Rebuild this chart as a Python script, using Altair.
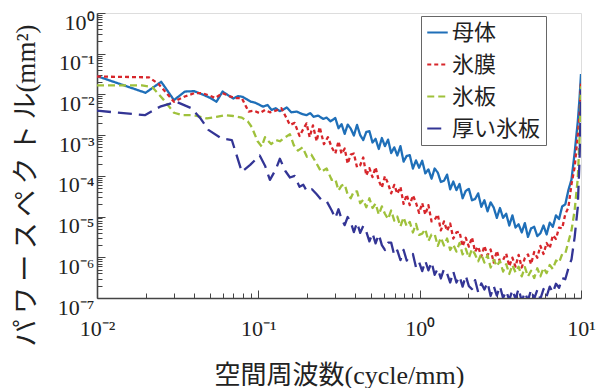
import json
import altair as alt
import pandas as pd

SERIES = ["母体", "氷膜", "氷板", "厚い氷板"]
COLORS = ["#1f6fb8", "#d7262b", "#9fc13b", "#333595"]
DASHES = [[1, 0], [4, 3], [7, 4], [14, 7]]

X_TICKS = [0.01, 0.1, 1, 10]
X_TICK_LABELS = ["10⁻²", "10⁻¹", "10⁰", "10¹"]
Y_TICKS = [1e-7, 1e-6, 1e-5, 1e-4, 1e-3, 1e-2, 1e-1, 1]
Y_TICK_LABELS = ["10⁻⁷", "10⁻⁶", "10⁻⁵", "10⁻⁴", "10⁻³", "10⁻²", "10⁻¹", "10⁰"]
X_TITLE = "空間周波数(cycle/mm)"
Y_TITLE = "パ\u2009ワ\u2009ー\u2009ス\u2009ペ\u2009ク\u2009ト\u2009ル(mm²)"

# shared high-frequency grid (cycle/mm)
F_HI = [0.300, 0.314, 0.328, 0.343, 0.358, 0.374, 0.391, 0.409, 0.428, 0.447,
        0.467, 0.488, 0.510, 0.533, 0.558, 0.583, 0.609, 0.637, 0.666, 0.696,
        0.727, 0.760, 0.795, 0.831, 0.868, 0.908, 0.949, 0.992, 1.037, 1.084,
        1.133, 1.185, 1.238, 1.295, 1.353, 1.415, 1.479, 1.546, 1.616, 1.690,
        1.766, 1.846, 1.930, 2.018, 2.110, 2.205, 2.305, 2.410, 2.519, 2.634,
        2.753, 2.878, 3.009, 3.146, 3.288, 3.438, 3.594, 3.757, 3.927, 4.106,
        4.292, 4.487, 4.691, 4.904, 5.126, 5.359, 5.602, 5.857, 6.122, 6.400,
        6.691, 6.995, 7.312, 7.644, 7.991, 8.354, 8.733, 9.130, 9.545, 9.8, 10.0]

# 母体 (log10 of power, mm^2)
BOTAI_F_LO = [0.01, 0.02, 0.025, 0.03, 0.035, 0.04, 0.045, 0.05, 0.055, 0.06, 0.065, 0.07,
              0.075, 0.08, 0.085, 0.09, 0.095, 0.1, 0.107, 0.114, 0.121, 0.128, 0.136, 0.143,
              0.15, 0.16, 0.173, 0.186, 0.199, 0.21, 0.22, 0.235, 0.252, 0.265, 0.28]
BOTAI_LOG_LO = [-1.55, -1.96, -1.69, -2.14, -1.93, -1.92, -2.00, -2.08, -2.18, -1.93,
                -2.02, -2.10, -2.04, -2.06, -2.12, -2.18, -2.20, -2.24, -2.30, -2.26,
                -2.38, -2.34, -2.41, -2.37, -2.32, -2.44, -2.42, -2.48, -2.51, -2.46,
                -2.55, -2.52, -2.60, -2.57, -2.66]
BOTAI_LOG_HI = [-2.58, -2.83, -2.73, -2.97, -2.74, -2.84, -3.01, -2.75, -3.00, -3.12,
                -2.92, -2.90, -3.18, -3.09, -3.34, -3.07, -3.27, -3.11, -3.44, -3.30,
                -3.50, -3.27, -3.65, -3.51, -3.49, -3.82, -3.62, -3.80, -3.63, -3.94,
                -3.84, -4.07, -3.82, -3.92, -4.15, -4.12, -3.97, -4.33, -4.14, -4.35,
                -4.20, -4.55, -4.37, -4.32, -4.60, -4.57, -4.43, -4.76, -4.60, -4.87,
                -4.65, -4.78, -5.03, -4.79, -5.03, -4.93, -5.22, -4.97, -5.27, -5.19,
                -5.39, -5.16, -5.50, -5.29, -5.25, -5.48, -5.41, -5.22, -5.44, -5.15,
                -5.25, -4.97, -5.06, -4.75, -4.70, -4.35, -4.09, -3.44, -2.68, -2.08,
                -1.50]

# 氷膜
HYOMAKU_F_LO = [0.01, 0.021, 0.024, 0.03, 0.035, 0.04, 0.045, 0.05, 0.054, 0.06, 0.066,
                0.072, 0.079, 0.087, 0.094, 0.102, 0.11, 0.118, 0.128, 0.139, 0.148, 0.157,
                0.168, 0.18, 0.19, 0.199, 0.208, 0.218, 0.23, 0.24, 0.255, 0.27, 0.285]
HYOMAKU_LOG_LO = [-1.56, -1.58, -1.74, -2.18, -2.05, -1.97, -1.97, -2.03, -2.09, -1.97,
                  -2.04, -2.09, -2.09, -2.42, -2.40, -2.46, -2.38, -2.44, -2.40, -2.34,
                  -2.55, -2.75, -2.70, -3.02, -2.85, -2.71, -3.05, -2.76, -3.15, -2.80,
                  -3.22, -3.05, -3.30]
HYOMAKU_LOG_HI = [-3.45, -3.15, -3.46, -3.33, -3.70, -3.48, -3.45, -3.79, -3.74, -3.55,
                  -3.99, -3.81, -4.03, -3.79, -4.12, -4.29, -4.01, -4.19, -4.43, -4.22,
                  -4.44, -4.27, -4.69, -4.46, -4.72, -4.48, -4.66, -4.91, -4.67, -4.95,
                  -4.72, -5.12, -5.08, -4.95, -5.34, -5.12, -5.35, -5.17, -5.54, -5.39,
                  -5.37, -5.73, -5.52, -5.74, -5.51, -5.86, -5.74, -5.98, -5.72, -5.95,
                  -5.81, -6.13, -5.84, -6.11, -6.07, -5.91, -6.22, -6.01, -6.23, -5.94,
                  -6.25, -6.02, -5.93, -6.17, -5.87, -6.01, -5.72, -5.92, -5.65, -5.78,
                  -5.46, -5.55, -5.27, -5.29, -4.94, -4.78, -4.20, -3.79, -3.02, -2.47,
                  -1.70]

# 氷板
HYOBAN_F_LO = [0.01, 0.019, 0.022, 0.026, 0.03, 0.034, 0.04, 0.048, 0.055, 0.062, 0.07,
               0.079, 0.086, 0.091, 0.099, 0.105, 0.11, 0.12, 0.128, 0.136, 0.147, 0.157,
               0.166, 0.176, 0.188, 0.2, 0.213, 0.23, 0.245, 0.265, 0.285]
HYOBAN_LOG_LO = [-1.78, -1.78, -1.82, -2.14, -2.45, -2.51, -2.51, -2.59, -2.55, -2.51,
                 -2.53, -2.57, -2.66, -2.80, -3.15, -3.28, -3.05, -3.22, -3.12, -3.15,
                 -3.05, -2.98, -3.25, -3.38, -3.30, -3.53, -3.48, -3.70, -3.90, -3.82,
                 -4.10]
HYOBAN_LOG_HI = [-4.08, -4.36, -4.24, -4.21, -4.46, -4.55, -4.38, -4.38, -4.67, -4.59,
                 -4.77, -4.55, -4.79, -4.68, -4.95, -4.75, -4.93, -5.06, -4.85, -5.10,
                 -5.00, -5.24, -5.02, -5.24, -5.13, -5.39, -5.18, -5.45, -5.42, -5.31,
                 -5.60, -5.44, -5.43, -5.72, -5.52, -5.71, -5.54, -5.82, -5.69, -5.86,
                 -5.65, -5.93, -5.79, -6.01, -5.80, -5.93, -6.10, -5.92, -6.13, -5.95,
                 -6.25, -6.06, -6.22, -6.09, -6.35, -6.17, -6.41, -6.19, -6.37, -6.23,
                 -6.47, -6.24, -6.47, -6.33, -6.51, -6.27, -6.47, -6.26, -6.39, -6.19,
                 -6.29, -6.08, -6.13, -5.92, -5.91, -5.62, -5.34, -4.85, -4.08, -3.08,
                 -1.80]

# 厚い氷板
ATSUI_F_LO = [0.01, 0.0198, 0.0246, 0.031, 0.0386, 0.044, 0.049, 0.059, 0.0685, 0.079,
              0.089, 0.102, 0.11, 0.118, 0.128, 0.136, 0.147, 0.157, 0.168, 0.18, 0.19,
              0.2, 0.215, 0.23, 0.245, 0.265, 0.285]
ATSUI_LOG_LO = [-2.40, -2.51, -2.30, -2.18, -2.34, -2.60, -2.87, -3.08, -3.12, -3.90,
                -3.73, -3.50, -3.75, -4.10, -3.85, -3.58, -3.88, -4.04, -4.00, -4.27,
                -4.22, -4.38, -4.33, -4.45, -4.58, -4.62, -4.85]
ATSUI_LOG_HI = [-5.04, -4.82, -5.06, -5.21, -5.01, -5.14, -5.38, -5.15, -5.40, -5.23,
                -5.37, -5.61, -5.41, -5.66, -5.44, -5.70, -5.82, -5.64, -5.64, -5.95,
                -5.83, -6.07, -5.82, -6.08, -5.96, -5.92, -6.25, -6.12, -6.34, -6.09,
                -6.32, -6.12, -6.43, -6.28, -6.52, -6.29, -6.40, -6.62, -6.35, -6.62,
                -6.47, -6.72, -6.45, -6.71, -6.78, -6.56, -6.86, -6.64, -6.79, -6.62,
                -6.95, -6.71, -6.94, -6.71, -7.00, -6.83, -7.05, -6.80, -7.02, -6.77,
                -7.08, -6.86, -7.06, -6.80, -7.02, -6.80, -7.02, -6.78, -6.96, -6.72,
                -6.87, -6.65, -6.75, -6.51, -6.54, -6.27, -6.05, -5.51, -4.78, -3.58,
                -1.90]

parts = [
    (SERIES[0], BOTAI_F_LO, BOTAI_LOG_LO, BOTAI_LOG_HI),
    (SERIES[1], HYOMAKU_F_LO, HYOMAKU_LOG_LO, HYOMAKU_LOG_HI),
    (SERIES[2], HYOBAN_F_LO, HYOBAN_LOG_LO, HYOBAN_LOG_HI),
    (SERIES[3], ATSUI_F_LO, ATSUI_LOG_LO, ATSUI_LOG_HI),
]
rows = []
for name, flo, llo, lhi in parts:
    assert len(flo) == len(llo), (name, len(flo), len(llo))
    assert len(lhi) == len(F_HI), (name, len(lhi), len(F_HI))
    fs = flo + F_HI
    ls = llo + lhi
    for i, (f, l) in enumerate(zip(fs, ls)):
        rows.append({"series": name, "f": f, "P": 10 ** l, "i": i})
df = pd.DataFrame(rows)

x_minor = [m * t for t in X_TICKS[:-1] for m in range(2, 10)]
y_minor = [m * t for t in Y_TICKS[:-1] for m in range(2, 10)]


def label_expr(values, labels):
    e = "''"
    for v, lab in zip(values, labels):
        e = f"datum.value == {v!r} ? '{lab}' : ({e})"
    return e


xs = alt.Scale(type="log", domain=[0.01, 10], nice=False)
ys = alt.Scale(type="log", domain=[1e-7, 1], nice=False)

label_font = "Liberation Serif"
title_font = "Liberation Serif, Noto Sans CJK JP"

x_axis = alt.Axis(orient="bottom", values=X_TICKS, labelExpr=label_expr(X_TICKS, X_TICK_LABELS),
                  ticks=False, tickSize=0, labelPadding=20, labelFlush=False, labelFont=label_font,
                  labelFontSize=22, labelColor="#222", domainColor="#444", domainWidth=1.6,
                  grid=False, title=X_TITLE, titleFont=title_font, titleFontSize=26,
                  titleFontWeight="normal", titleColor="#222", titleY=77,
                  titleBaseline="middle")
y_axis = alt.Axis(orient="left", values=Y_TICKS, labelExpr=label_expr(Y_TICKS, Y_TICK_LABELS),
                  ticks=False, tickSize=0, labelPadding=3, labelOffset=9, labelFont=label_font,
                  labelFontSize=22, labelColor="#222", domainColor="#444", domainWidth=1.6,
                  grid=False, title=Y_TITLE, titleFont=title_font, titleFontSize=27,
                  titleFontWeight="normal", titleColor="#222", titleX=-71, titleY=172,
                  titleAlign="center", titleBaseline="middle")

W, H = 484, 285

x_tick_vals = X_TICKS + x_minor
y_tick_vals = Y_TICKS + y_minor
x_inner = alt.Axis(orient="top", offset=-H, values=x_tick_vals, labels=False, domain=False,
                   grid=False, ticks=True, tickColor="#444", tickWidth=1,
                   tickSize={"condition": {"test": f"indexof({json.dumps(X_TICKS)}, datum.value) >= 0", "value": 8}, "value": 5},
                   title=None)
y_inner = alt.Axis(orient="right", offset=-W, values=y_tick_vals, labels=False, domain=False,
                   grid=False, ticks=True, tickColor="#444", tickWidth=1,
                   tickSize={"condition": {"test": f"indexof({json.dumps(Y_TICKS)}, datum.value) >= 0", "value": 8}, "value": 5},
                   title=None)

legend = alt.Legend(title=None, orient="none", legendX=324, legendY=3, symbolType="stroke",
                    symbolSize=420, symbolStrokeWidth=2, labelFont="Noto Sans CJK JP",
                    labelFontSize=22, labelColor="#222", padding=5, rowPadding=9,
                    labelOffset=3, strokeColor="#666", fillColor="white")

ticks_layer = alt.Chart(df).mark_point(opacity=0).encode(
    x=alt.X("f:Q", scale=xs, axis=x_inner),
    y=alt.Y("P:Q", scale=ys, axis=y_inner),
)

lines = alt.Chart(df).mark_line(strokeWidth=2.3, clip=True, strokeJoin="round").encode(
    x=alt.X("f:Q", scale=xs, axis=x_axis),
    y=alt.Y("P:Q", scale=ys, axis=y_axis),
    color=alt.Color("series:N", scale=alt.Scale(domain=SERIES, range=COLORS), legend=legend),
    strokeDash=alt.StrokeDash("series:N", scale=alt.Scale(domain=SERIES, range=DASHES), legend=legend),
    order="i:Q",
)

chart = alt.layer(ticks_layer, lines).resolve_axis(x="independent", y="independent").properties(
    width=W, height=H,
    padding={"left": 89, "top": 5, "right": 20, "bottom": 94},
    autosize=alt.AutoSizeParams(type="none"),
).configure_view(stroke="#555", strokeWidth=1.5).configure(background="white")

chart.save("out.html", embed_options={"renderer": "svg", "actions": False})
